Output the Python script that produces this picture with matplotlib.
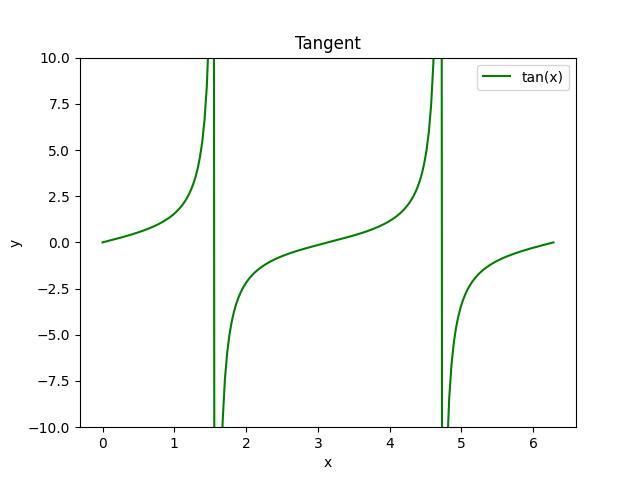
import numpy as np
import matplotlib
matplotlib.use("Agg")
import matplotlib.pyplot as plt

# Data: the plotted function tan(x) sampled on [0, 2*pi]
x_start = 0.0
x_end = 2 * np.pi
n_points = 200
x = np.linspace(x_start, x_end, n_points)
y = np.tan(x)

series_label = "tan(x)"
title = "Tangent"
y_limits = (-10, 10)

fig, ax = plt.subplots(figsize=(6.4, 4.8), dpi=100)
ax.plot(x, y, color="green", label=series_label)
ax.set_ylim(*y_limits)
ax.set_title(title)
ax.set_xlabel("x")
ax.set_ylabel("y")
ax.legend(loc="upper right")
fig.savefig("out.png", dpi=100)
